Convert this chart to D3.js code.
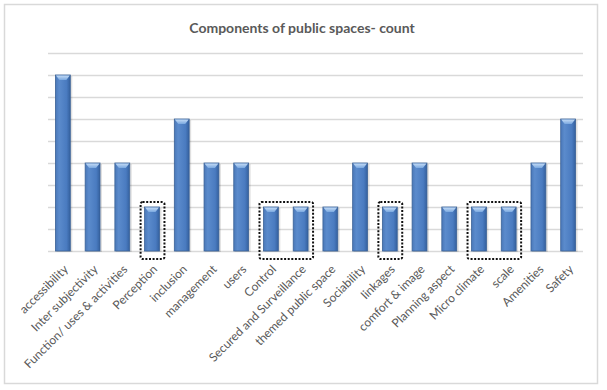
<!DOCTYPE html>
<html>
<head>
<meta charset="utf-8">
<script src="https://cdn.jsdelivr.net/npm/d3@7"></script>
<style>
  body { margin: 0; background: #fff; }
  svg { display: block; }
</style>
</head>
<body>
<svg id="chart" width="607" height="390"></svg>
<script>
// data
const categories = ["accessibility", "Inter subjectivity", "Function/ uses & activities", "Perception",
    "inclusion", "management", "users", "Control", "Secured and Surveillance", "themed public space",
    "Sociability", "linkages", "comfort & image", "Planning aspect", "Micro climate", "scale",
    "Amenities", "Safety"]
const counts = [4, 2, 2, 1, 3, 2, 2, 1, 1, 1, 2, 1, 2, 1, 1, 1, 2, 3]
const yTicks = [0, 0.5, 1, 1.5, 2, 2.5, 3, 3.5, 4, 4.5]
// highlighted groups (first, last category)
const highlights = [["Perception", "Perception"], ["Control", "Secured and Surveillance"],
    ["linkages", "linkages"], ["Micro climate", "scale"]]
const title = "Components of public spaces- count"

const data = categories.map((c, i) => ({ key: c, value: counts[i] }))

const svg = d3.select("#chart")
const plot = { left: 48, right: 583, top: 53, bottom: 251 }
const font = "Lato, 'Open Sans', sans-serif"

/* frame */
svg.append("rect")
    .attr("x", 4.5).attr("y", 4.5)
    .attr("width", 593).attr("height", 379)
    .attr("fill", "#fff")
    .attr("stroke", "#d9d9d9")
    .attr("stroke-width", 1.5)

svg.append("text")
    .text(title)
    .attr("x", 302).attr("y", 33)
    .attr("text-anchor", "middle")
    .style("font-family", font)
    .style("font-size", "14px")
    .style("font-weight", "bold")
    .style("fill", "#595959")

/* scales */
let xScale = d3.scaleBand()
    .domain(categories)
    .range([plot.left, plot.right])
    .paddingInner(0.5)
    .paddingOuter(0.25)

let yScale = d3.scaleLinear()
    .domain([0, 4.5])
    .range([plot.bottom, plot.top])

/* gradient for bars */
const defs = svg.append("defs")
const grad = defs.append("linearGradient").attr("id", "barGrad")
    .attr("x1", "0%").attr("x2", "100%").attr("y1", "0%").attr("y2", "0%")
grad.append("stop").attr("offset", "0%").attr("stop-color", "#4a78b8")
grad.append("stop").attr("offset", "25%").attr("stop-color", "#5b8bcc")
grad.append("stop").attr("offset", "75%").attr("stop-color", "#4a7bc0")
grad.append("stop").attr("offset", "100%").attr("stop-color", "#34609e")

const topGrad = defs.append("linearGradient").attr("id", "topGrad")
    .attr("x1", "0%").attr("x2", "0%").attr("y1", "0%").attr("y2", "100%")
topGrad.append("stop").attr("offset", "0%").attr("stop-color", "#c3dbf5")
topGrad.append("stop").attr("offset", "100%").attr("stop-color", "#7aa8e0")

/* gridlines */
svg.append("g")
    .attr("id", "grid")
    .attr("transform", `translate(${plot.left},0)`)
    .call(d3.axisLeft(yScale).tickValues(yTicks).tickSize(-(plot.right - plot.left)).tickFormat(""))
    .call(g => g.select(".domain").remove())
    .call(g => g.selectAll("line").attr("stroke", "#d9d9d9").attr("stroke-width", 1.5))

/* bars */
let barG = svg.append("g").attr("id", "bars")
const bw = xScale.bandwidth()

barG.selectAll("rect.shadow")
    .data(data)
    .enter()
    .append("rect")
    .attr("class", "shadow")
    .attr("x", d => xScale(d.key) + 1)
    .attr("y", d => yScale(d.value) + 1)
    .attr("width", bw + 1)
    .attr("height", d => plot.bottom - yScale(d.value))
    .attr("fill", "rgba(0,0,0,0.12)")

barG.selectAll("rect.bar")
    .data(data)
    .enter()
    .append("rect")
    .attr("class", "bar")
    .attr("x", d => xScale(d.key))
    .attr("y", d => yScale(d.value))
    .attr("width", bw)
    .attr("height", d => plot.bottom - yScale(d.value))
    .attr("fill", "url(#barGrad)")
    .attr("stroke", "#3b6296")
    .attr("stroke-width", 0.8)

// bevel on top of each bar
barG.selectAll("path.bevel")
    .data(data)
    .enter()
    .append("path")
    .attr("class", "bevel")
    .attr("d", d => {
        let x0 = xScale(d.key) + 0.5, x1 = xScale(d.key) + bw - 0.5, y0 = yScale(d.value) + 0.5
        return `M${x0},${y0}L${x1},${y0}L${x1 - 3.5},${y0 + 4.5}L${x0 + 3.5},${y0 + 4.5}Z`
    })
    .attr("fill", "url(#topGrad)")

/* category labels */
svg.append("g")
    .attr("id", "labels")
    .selectAll("text")
    .data(data)
    .enter()
    .append("text")
    .text(d => d.key)
    .attr("text-anchor", "end")
    .attr("transform", d => {
        let x = xScale(d.key) + bw / 2 + 3
        let y = plot.bottom + 16
        return `translate(${x},${y}) rotate(-45)`
    })
    .attr("dy", "0.35em")
    .style("font-family", font)
    .style("font-size", "12px")
    .style("fill", "#595959")

/* dotted highlight boxes */
svg.append("g")
    .attr("id", "boxes")
    .selectAll("rect")
    .data(highlights)
    .enter()
    .append("rect")
    .attr("x", d => xScale(d[0]) - 4)
    .attr("y", yScale(1) - 5)
    .attr("width", d => xScale(d[1]) + bw + 5 - (xScale(d[0]) - 4))
    .attr("height", plot.bottom + 8 - (yScale(1) - 5))
    .attr("rx", 2)
    .attr("fill", "none")
    .attr("stroke", "#111")
    .attr("stroke-width", 2)
    .attr("stroke-dasharray", "2,1.6")
</script>
</body>
</html>
